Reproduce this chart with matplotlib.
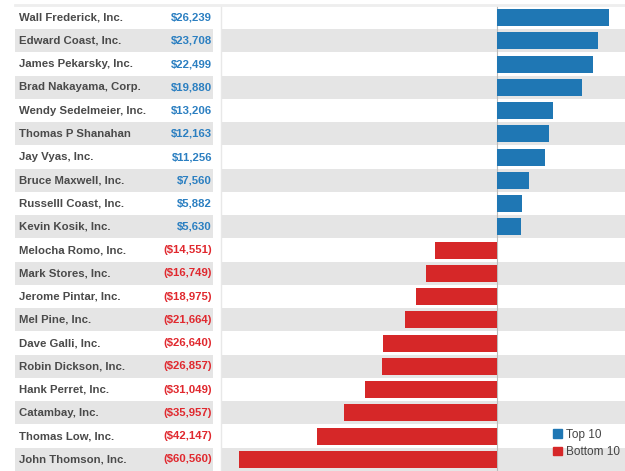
import matplotlib
matplotlib.use("Agg")
import matplotlib.pyplot as plt
from matplotlib.patches import Patch
import numpy as np

plt.rcParams['font.family'] = ['Liberation Sans', 'DejaVu Sans']

names = [
    "Wall Frederick, Inc.", "Edward Coast, Inc.", "James Pekarsky, Inc.",
    "Brad Nakayama, Corp.", "Wendy Sedelmeier, Inc.", "Thomas P Shanahan",
    "Jay Vyas, Inc.", "Bruce Maxwell, Inc.", "Russelll Coast, Inc.",
    "Kevin Kosik, Inc.", "Melocha Romo, Inc.", "Mark Stores, Inc.",
    "Jerome Pintar, Inc.", "Mel Pine, Inc.", "Dave Galli, Inc.",
    "Robin Dickson, Inc.", "Hank Perret, Inc.", "Catambay, Inc.",
    "Thomas Low, Inc.", "John Thomson, Inc.",
]
profits = [
    26239, 23708, 22499, 19880, 13206, 12163, 11256, 7560, 5882, 5630,
    -14551, -16749, -18975, -21664, -26640, -26857, -31049, -35957, -42147, -60560,
]
group_labels = ["Top 10", "Bottom 10"]

BLUE = "#1f77b4"
RED = "#d62728"
BLUE_TXT = "#2b7fc1"
RED_TXT = "#e0282e"
STRIPE = "#e5e5e5"
NAME_TXT = "#4a4a4a"

W, H = 625, 471
fig = plt.figure(figsize=(W / 100, H / 100), dpi=100)
fig.patch.set_facecolor("white")

top_px, bot_px = 6, 471
y0 = 1 - bot_px / H
hgt = (bot_px - top_px) / H

n = len(names)
ypos = np.arange(n)

def fmt(v):
    s = "${:,}".format(abs(v))
    return s if v >= 0 else "(" + s + ")"

# table of names and values
tab = fig.add_axes([15 / W, y0, (213 - 15) / W, hgt])
tab.set_xlim(0, 1)
tab.set_ylim(n - 0.5, -0.5)
tab.axis("off")
for i in ypos:
    if i % 2 == 1:
        tab.axhspan(i - 0.5, i + 0.5, color=STRIPE, lw=0)
    tab.text(4 / 198, i, names[i], ha="left", va="center", fontsize=8.2,
             fontweight="bold", color=NAME_TXT)
    v = profits[i]
    tab.text(197 / 198, i, fmt(v), ha="right", va="center", fontsize=8.2,
             fontweight="bold", color=BLUE_TXT if v >= 0 else RED_TXT)

# bar chart
ax = fig.add_axes([221 / W, y0, (W - 221) / W, hgt])
ax.set_ylim(n - 0.5, -0.5)
ax.set_xlim(-64700, 30000)
for i in ypos:
    if i % 2 == 1:
        ax.axhspan(i - 0.5, i + 0.5, color=STRIPE, lw=0, zorder=0)
colors = [BLUE if v >= 0 else RED for v in profits]
ax.barh(ypos, profits, height=0.74, color=colors, zorder=2)
ax.axvline(0, color="#bbbbbb", lw=0.8, zorder=1)
ax.set_xticks([])
ax.set_yticks([])
for s in ["top", "right", "bottom"]:
    ax.spines[s].set_visible(False)
ax.spines["left"].set_color("#e8e8e8")
ax.spines["left"].set_linewidth(1.0)

# thin header rule
fig.add_artist(plt.Line2D([15 / W, 1], [1 - 4.5 / H, 1 - 4.5 / H],
                          color="#eeeeee", lw=2, transform=fig.transFigure))

handles = [Patch(color=BLUE, label=group_labels[0]),
           Patch(color=RED, label=group_labels[1])]
fig.legend(handles=handles, loc="lower left",
           bbox_to_anchor=(547 / W, 1 - 464 / H), frameon=False,
           fontsize=8.5, handlelength=0.75, handleheight=0.75,
           handletextpad=0.35, labelspacing=0.45, borderpad=0,
           labelcolor="#444444")

fig.savefig("out.png", dpi=100)
